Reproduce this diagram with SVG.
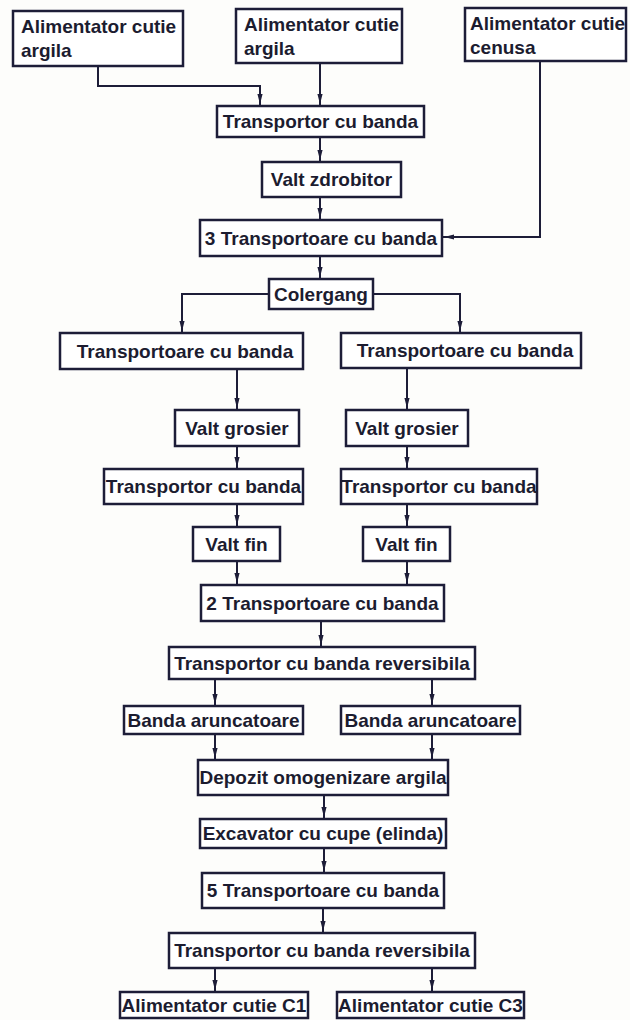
<svg xmlns="http://www.w3.org/2000/svg" width="630" height="1020" viewBox="0 0 630 1020">
<defs>
<style>
.box{fill:#ffffff;stroke:#1d1d38;stroke-width:2.5}
.t{font-family:"Liberation Sans",Arial,sans-serif;font-weight:bold;font-size:19px;fill:#1c1c30}
.c{text-anchor:middle}
.ln{fill:none;stroke:#1d1d38;stroke-width:2;marker-end:url(#ah)}
</style>
<marker id="ah" markerUnits="userSpaceOnUse" markerWidth="14" markerHeight="8" viewBox="0 -4 14 8" refX="12" refY="0" orient="auto">
<path d="M0,-2.6 L10,0 L0,2.6 Z" fill="#1d1d38"/>
</marker>
</defs>
<rect width="630" height="1020" fill="#fdfdfb"/>
<g id="connectors">
<path class="ln" d="M98,66 V86 H260 V106"/>
<path class="ln" d="M320,63 V106"/>
<path class="ln" d="M320,137 V162"/>
<path class="ln" d="M320,197 V220"/>
<path class="ln" d="M540,61 V237 H442"/>
<path class="ln" d="M320,256 V279"/>
<path class="ln" d="M269,294 H182 V333"/>
<path class="ln" d="M373,294 H460 V333"/>
<path class="ln" d="M237,369 V410"/>
<path class="ln" d="M407,368 V410"/>
<path class="ln" d="M237,446 V469"/>
<path class="ln" d="M407,446 V469"/>
<path class="ln" d="M237,504 V527"/>
<path class="ln" d="M407,504 V527"/>
<path class="ln" d="M237,561 V585"/>
<path class="ln" d="M407,561 V585"/>
<path class="ln" d="M321,621 V647"/>
<path class="ln" d="M215,679 V706"/>
<path class="ln" d="M432,679 V706"/>
<path class="ln" d="M215,734 V760"/>
<path class="ln" d="M432,734 V760"/>
<path class="ln" d="M324,795 V819"/>
<path class="ln" d="M324,848 V873"/>
<path class="ln" d="M323,908 V933"/>
<path class="ln" d="M215,968 V992"/>
<path class="ln" d="M432,968 V992"/>
</g>
<g id="n_a1"><rect class="box" x="13" y="11" width="170" height="55"/><text class="t" x="21" y="33">Alimentator cutie</text><text class="t" x="21" y="57">argila</text></g>
<g id="n_a2"><rect class="box" x="236" y="9" width="166" height="54"/><text class="t" x="244" y="31">Alimentator cutie</text><text class="t" x="244" y="55">argila</text></g>
<g id="n_a3"><rect class="box" x="465" y="8" width="161" height="53"/><text class="t" x="470" y="30">Alimentator cutie</text><text class="t" x="470" y="54">cenusa</text></g>
<g id="n_t1"><rect class="box" x="217" y="106" width="207" height="31"/><text class="t c" x="320.5" y="128">Transportor cu banda</text></g>
<g id="n_vz"><rect class="box" x="262" y="162" width="139" height="35"/><text class="t c" x="331.5" y="186">Valt zdrobitor</text></g>
<g id="n_t3"><rect class="box" x="200" y="220" width="242" height="36"/><text class="t c" x="321" y="245">3 Transportoare cu banda</text></g>
<g id="n_col"><rect class="box" x="269" y="279" width="104" height="30"/><text class="t c" x="321" y="301">Colergang</text></g>
<g id="n_tl"><rect class="box" x="60" y="333" width="243" height="36"/><text class="t c" x="185" y="358">Transportoare cu banda</text></g>
<g id="n_tr"><rect class="box" x="341" y="333" width="240" height="35"/><text class="t c" x="465" y="357">Transportoare cu banda</text></g>
<g id="n_vgl"><rect class="box" x="175" y="410" width="124" height="36"/><text class="t c" x="237" y="435">Valt grosier</text></g>
<g id="n_vgr"><rect class="box" x="346" y="410" width="122" height="36"/><text class="t c" x="407" y="435">Valt grosier</text></g>
<g id="n_tpl"><rect class="box" x="104" y="469" width="199" height="35"/><text class="t c" x="203.5" y="493">Transportor cu banda</text></g>
<g id="n_tpr"><rect class="box" x="341" y="469" width="196" height="35"/><text class="t c" x="439" y="493">Transportor cu banda</text></g>
<g id="n_vfl"><rect class="box" x="193" y="527" width="87" height="34"/><text class="t c" x="236.5" y="551">Valt fin</text></g>
<g id="n_vfr"><rect class="box" x="363" y="527" width="87" height="34"/><text class="t c" x="406.5" y="551">Valt fin</text></g>
<g id="n_t2"><rect class="box" x="201" y="585" width="243" height="36"/><text class="t c" x="322.5" y="610">2 Transportoare cu banda</text></g>
<g id="n_rev1"><rect class="box" x="169" y="647" width="306" height="32"/><text class="t c" x="322" y="670">Transportor cu banda reversibila</text></g>
<g id="n_bl"><rect class="box" x="124" y="706" width="179" height="28"/><text class="t c" x="213.5" y="727">Banda aruncatoare</text></g>
<g id="n_br"><rect class="box" x="341" y="706" width="179" height="28"/><text class="t c" x="430.5" y="727">Banda aruncatoare</text></g>
<g id="n_dep"><rect class="box" x="198" y="760" width="250" height="35"/><text class="t c" x="323" y="784">Depozit omogenizare argila</text></g>
<g id="n_exc"><rect class="box" x="200" y="819" width="246" height="29"/><text class="t c" x="323" y="840">Excavator cu cupe (elinda)</text></g>
<g id="n_t5"><rect class="box" x="202" y="873" width="242" height="35"/><text class="t c" x="323" y="897">5 Transportoare cu banda</text></g>
<g id="n_rev2"><rect class="box" x="169" y="933" width="306" height="35"/><text class="t c" x="322" y="957">Transportor cu banda reversibila</text></g>
<g id="n_c1"><rect class="box" x="120" y="992" width="188" height="26"/><text class="t c" x="214" y="1012">Alimentator cutie C1</text></g>
<g id="n_c3"><rect class="box" x="337" y="992" width="187" height="26"/><text class="t c" x="430.5" y="1012">Alimentator cutie C3</text></g>
</svg>
